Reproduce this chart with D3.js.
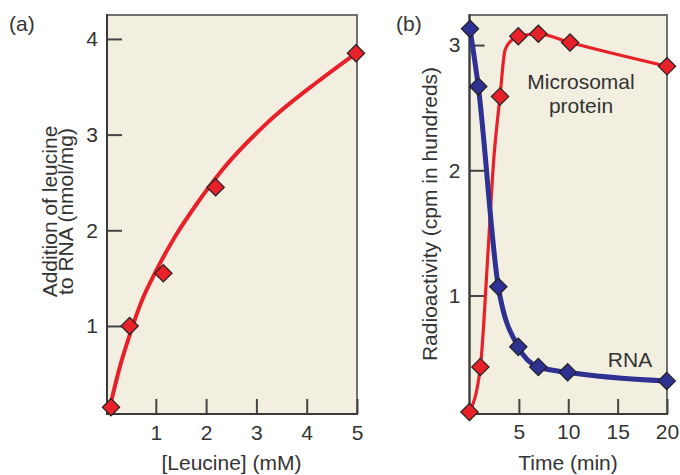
<!DOCTYPE html>
<html><head><meta charset="utf-8">
<script src="https://cdn.jsdelivr.net/npm/d3@7"></script>
<style>
body{margin:0;background:#fff}
svg text{font-family:"Liberation Sans",Arial,Helvetica,sans-serif;fill:#333}
</style>
</head><body><svg id="c" width="680" height="475"></svg>
<script>
// Panel (a): leucine addition vs [Leucine]
const leucineConc = [0.11, 0.48, 1.15, 2.19, 4.98];
const leucineAdd = [0.15, 1.0, 1.55, 2.45, 3.85];
const leucineFitConc = [0.09, 0.29, 0.49, 0.72, 1.02, 1.39, 1.82, 2.32, 3.21, 4.21, 4.98];
const leucineFitAdd = [0.16, 0.58, 0.92, 1.26, 1.59, 1.94, 2.28, 2.63, 3.12, 3.55, 3.85];
const ticksAX = [1, 2, 3, 4, 5];
const ticksAY = [1, 2, 3, 4];

// Panel (b): radioactivity vs time
const proteinTime = [0, 1.1, 3.09, 4.94, 6.97, 10.18, 20];
const proteinCpm = [0.07, 0.43, 2.59, 3.07, 3.09, 3.02, 2.83];
const proteinCurveTime = [0, 1.1, 1.9, 2.41, 3.09, 3.6, 4.27, 4.94, 6.97, 10.18, 20];
const proteinCurveCpm = [0.07, 0.43, 1.38, 2.04, 2.59, 2.96, 3.04, 3.07, 3.09, 3.02, 2.83];
const rnaTime = [0.05, 0.89, 2.92, 4.94, 6.97, 9.94, 19.97];
const rnaCpm = [3.13, 2.67, 1.07, 0.59, 0.43, 0.387, 0.317];
const ticksBX = [5, 10, 15, 20];
const ticksBY = [1, 2, 3];

const RED = "#e8202a", BLUE = "#2e3192", BG = "#f2efe0";
const FS = 21;
const svg = d3.select("#c");

function frame(x, y, ticksX, ticksY, padX, padY) {
  const [x0, x1] = x.range(), [y0, y1] = y.range();
  svg.append("rect").attr("x", x0).attr("y", y1).attr("width", x1 - x0).attr("height", y0 - y1)
    .attr("fill", BG).attr("stroke", "#707070").attr("stroke-width", 2);
  const ga = svg.append("g").attr("transform", `translate(0,${y0})`)
    .call(d3.axisBottom(x).tickValues(ticksX).tickSize(-15).tickPadding(padX).tickFormat(d3.format("d")));
  const gl = svg.append("g").attr("transform", `translate(${x0},0)`)
    .call(d3.axisLeft(y).tickValues(ticksY).tickSize(-15).tickPadding(padY).tickFormat(d3.format("d")));
  [ga, gl].forEach(g => {
    g.select(".domain").remove();
    g.selectAll(".tick line").attr("stroke", "#444").attr("stroke-width", 2);
    g.selectAll(".tick text").attr("font-size", FS).attr("fill", "#333")
      .style("font-family", '"Liberation Sans",Arial,sans-serif');
  });
  svg.append("line").attr("x1", x0).attr("x2", x0).attr("y1", y1 - 1).attr("y2", y0 + 1)
    .attr("stroke", "#3a3a3a").attr("stroke-width", 2);
  svg.append("line").attr("x1", x0 - 1).attr("x2", x1 + 1).attr("y1", y0).attr("y2", y0)
    .attr("stroke", "#3a3a3a").attr("stroke-width", 2);
}

function markers(x, y, xs, ys, color) {
  svg.append("g").selectAll("path").data(xs.map((d, i) => [d, ys[i]])).join("path")
    .attr("d", d3.symbol(d3.symbolSquare, 150))
    .attr("transform", d => `translate(${x(d[0])},${y(d[1])}) rotate(45)`)
    .attr("fill", color).attr("stroke", "#222").attr("stroke-width", 1.2);
}

// ---- Panel (a)
const xA = d3.scaleLinear().domain([0.03, 5]).range([107, 357]);
const yA = d3.scaleLinear().domain([0.08, 4.25]).range([414, 15]);
frame(xA, yA, ticksAX, ticksAY, 11, 9);
svg.append("path").datum(leucineFitConc.map((d, i) => [d, leucineFitAdd[i]]))
  .attr("d", d3.line().x(d => xA(d[0])).y(d => yA(d[1])).curve(d3.curveMonotoneX))
  .attr("fill", "none").attr("stroke", RED).attr("stroke-width", 4);
markers(xA, yA, leucineConc, leucineAdd, RED);

// ---- Panel (b)
const xB = d3.scaleLinear().domain([0, 20]).range([469.5, 667]);
const yB = d3.scaleLinear().domain([0.054, 3.24]).range([414, 15]);
frame(xB, yB, ticksBX, ticksBY, 10, 9);
svg.append("path").datum(proteinCurveTime.map((d, i) => [d, proteinCurveCpm[i]]))
  .attr("d", d3.line().x(d => xB(d[0])).y(d => yB(d[1])).curve(d3.curveMonotoneX))
  .attr("fill", "none").attr("stroke", RED).attr("stroke-width", 3.2);
svg.append("path").datum(rnaTime.map((d, i) => [d, rnaCpm[i]]))
  .attr("d", d3.line().x(d => xB(d[0])).y(d => yB(d[1])).curve(d3.curveMonotoneX))
  .attr("fill", "none").attr("stroke", BLUE).attr("stroke-width", 5);
markers(xB, yB, proteinTime, proteinCpm, RED);
markers(xB, yB, rnaTime, rnaCpm, BLUE);

// ---- Text
const t = (x, y, s, anchor, size) => svg.append("text").attr("x", x).attr("y", y)
  .attr("text-anchor", anchor || "start").attr("font-size", size || FS).text(s);
t(9, 31, "(a)");
t(396, 31, "(b)");
t(231.5, 470, "[Leucine] (mM)", "middle");
t(568, 470, "Time (min)", "middle");
t(581, 89, "Microsomal", "middle");
t(581, 113, "protein", "middle");
t(630, 366.5, "RNA", "middle");
const ga = svg.append("g").attr("transform", "translate(56.5,211.5) rotate(-90)")
  .append("text").attr("text-anchor", "middle").attr("font-size", FS);
ga.append("tspan").attr("x", 0).text("Addition of leucine");
ga.append("tspan").attr("x", 0).attr("dy", 16).text("to RNA (nmol/mg)");
svg.append("g").attr("transform", "translate(436.5,214) rotate(-90)")
  .append("text").attr("text-anchor", "middle").attr("font-size", FS).text("Radioactivity (cpm in hundreds)");
</script></body></html>
